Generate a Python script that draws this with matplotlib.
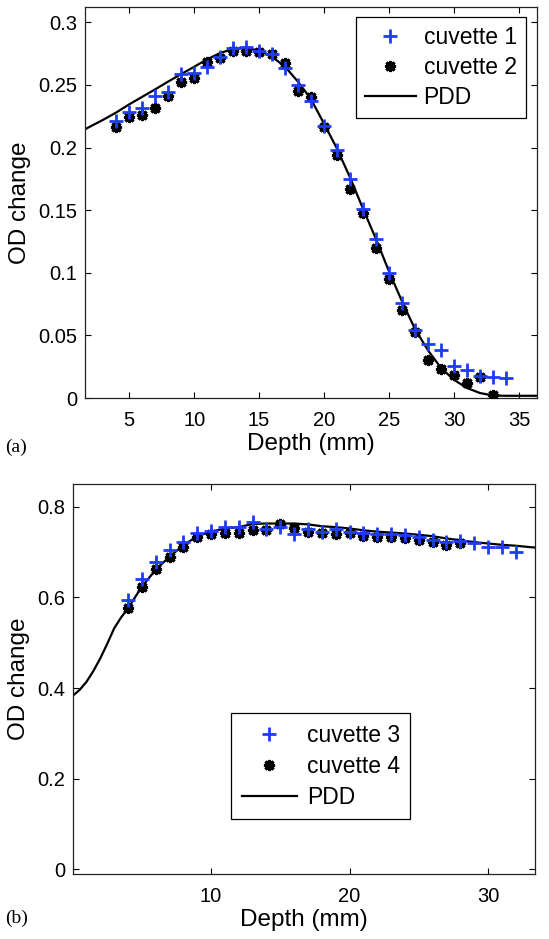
import matplotlib
matplotlib.use("Agg")
import matplotlib.pyplot as plt
from matplotlib.ticker import FuncFormatter, FixedLocator

# ---------------- data: panel (a) ----------------
depth_a = [4, 5, 6, 7, 8, 9, 10, 11, 12, 13, 14, 15, 16, 17, 18, 19, 20,
           21, 22, 23, 24, 25, 26, 27, 28, 29, 30, 31, 32, 33, 34]
cuvette1 = [0.2213, 0.2283, 0.2320, 0.2408, 0.2442, 0.2591, 0.2598, 0.2644,
            0.2721, 0.2798, 0.2803, 0.2770, 0.2750, 0.2633, 0.2498, 0.2375,
            0.2170, 0.1984, 0.1750, 0.1510, 0.1272, 0.1000, 0.0755, 0.0542,
            0.0429, 0.0383, 0.0254, 0.0223, 0.0174, 0.0165, 0.0157]
depth_a2 = [4, 5, 6, 7, 8, 9, 10, 11, 12, 13, 14, 15, 16, 17, 18, 19, 20,
            21, 22, 23, 24, 25, 26, 27, 28, 29, 30, 31, 32, 33]
cuvette2 = [0.2161, 0.2241, 0.2264, 0.2320, 0.2415, 0.2524, 0.2554, 0.2687,
            0.2718, 0.2770, 0.2775, 0.2766, 0.2748, 0.2673, 0.2453, 0.2405,
            0.2166, 0.1940, 0.1669, 0.1479, 0.1198, 0.0954, 0.0700, 0.0525,
            0.0303, 0.0235, 0.0186, 0.0124, 0.0171, 0.0022]
pdd_a_x = [1.6, 2, 3, 4, 5, 6, 7, 8, 9, 10, 11, 12, 13, 14, 15, 16, 17, 18,
           19, 20, 21, 22, 23, 24, 25, 26, 27, 28, 29, 30, 31, 32, 33, 34,
           35, 36.4]
pdd_a_y = [0.2146, 0.2168, 0.2222, 0.2280, 0.2345, 0.2405, 0.2465, 0.2527,
           0.2587, 0.2645, 0.2705, 0.2755, 0.2788, 0.2795, 0.2775, 0.2725,
           0.2645, 0.2525, 0.2385, 0.2190, 0.1990, 0.1760, 0.1510, 0.1268,
           0.1010, 0.0770, 0.0550, 0.0380, 0.0240, 0.0145, 0.0080, 0.0040,
           0.0020, 0.0018, 0.0018, 0.0018]

# ---------------- data: panel (b) ----------------
depth_b3 = [4, 5, 6, 7, 8, 9, 10, 11, 12, 13, 14, 15, 16, 17, 18, 19, 20,
            21, 22, 23, 24, 25, 26, 27, 28, 29, 30, 31, 32]
cuvette3 = [0.5943, 0.6406, 0.6787, 0.7045, 0.7228, 0.7413, 0.7471, 0.7559,
            0.7559, 0.7660, 0.7500, 0.7559, 0.7398, 0.7500, 0.7450, 0.7500,
            0.7450, 0.7413, 0.7390, 0.7390, 0.7380, 0.7324, 0.7266, 0.7230,
            0.7243, 0.7207, 0.7118, 0.7118, 0.7008]
depth_b4 = [4, 5, 6, 7, 8, 9, 10, 11, 12, 13, 14, 15, 16, 17, 18, 19, 20,
            21, 22, 23, 24, 25, 26, 27, 28]
cuvette4 = [0.5760, 0.6222, 0.6620, 0.6884, 0.7118, 0.7339, 0.7398, 0.7413,
            0.7427, 0.7486, 0.7486, 0.7618, 0.7523, 0.7449, 0.7427, 0.7398,
            0.7427, 0.7354, 0.7339, 0.7324, 0.7302, 0.7266, 0.7222, 0.7155,
            0.7192]
pdd_b_x = [0, 0.5, 1, 1.5, 2, 2.5, 3, 3.5, 4, 5, 6, 7, 8, 9, 10, 11, 12, 13,
           14, 15, 16, 17, 18, 19, 20, 21, 22, 23, 24, 25, 26, 27, 28, 29, 30,
           31, 32, 33, 33.4]
pdd_b_y = [0.383, 0.396, 0.414, 0.438, 0.466, 0.498, 0.532, 0.556, 0.576,
           0.624, 0.661, 0.690, 0.715, 0.735, 0.745, 0.752, 0.755, 0.762,
           0.763, 0.763, 0.763, 0.761, 0.757, 0.755, 0.752, 0.748, 0.745,
           0.743, 0.741, 0.738, 0.735, 0.730, 0.726, 0.722, 0.719, 0.716,
           0.714, 0.711, 0.710]

xticks_a = [5, 10, 15, 20, 25, 30, 35]
yticks_a = [0, 0.05, 0.1, 0.15, 0.2, 0.25, 0.3]
xticks_b = [10, 20, 30]
yticks_b = [0, 0.2, 0.4, 0.6, 0.8]

# ---------------- style ----------------
plt.rcParams['font.family'] = ['Liberation Sans', 'DejaVu Sans']
BLUE = '#1f3cf5'
TICK_FS = 14.5
LABEL_FS = 17.5
LEG_FS = 16.5

fig = plt.figure(figsize=(5.49, 9.39), dpi=100)
ax1 = fig.add_axes([0.1548, 0.5761, 0.8228, 0.4161])
ax2 = fig.add_axes([0.1324, 0.0692, 0.8421, 0.4153])

fmt = FuncFormatter(lambda v, p: '%g' % v)


def style(ax, xt, yt):
    ax.xaxis.set_major_locator(FixedLocator(xt))
    ax.yaxis.set_major_locator(FixedLocator(yt))
    ax.yaxis.set_major_formatter(fmt)
    ax.tick_params(direction='in', length=4, width=0.8, top=True, right=True,
                   labelsize=TICK_FS, colors='black')
    ax.tick_params(axis='y', pad=5.5)
    ax.tick_params(axis='x', pad=9.5)
    for s in ax.spines.values():
        s.set_linewidth(0.9)
        s.set_color('#222222')
    ax.set_xlabel('Depth (mm)', fontsize=LABEL_FS, labelpad=2)
    ax.set_ylabel('OD change', fontsize=LABEL_FS, labelpad=5)


pm = dict(marker='+', linestyle='none', color=BLUE, markersize=10.5,
          markeredgewidth=2.0)
dm = dict(marker=(8, 2, 0), linestyle='none', color='black', markersize=8,
          markeredgewidth=2.2)

ax1.plot(pdd_a_x, pdd_a_y, color='black', lw=1.6, label='PDD', zorder=2)
ax1.plot(depth_a, cuvette1, label='cuvette 1', zorder=4, **pm)
ax1.plot(depth_a2, cuvette2, label='cuvette 2', zorder=3, **dm)
ax1.set_xlim(1.6, 36.36)
ax1.set_ylim(0, 0.312)
style(ax1, xticks_a, yticks_a)
h, l = ax1.get_legend_handles_labels()
order = [1, 2, 0]
leg1 = ax1.legend([h[i] for i in order], [l[i] for i in order],
                  loc='upper right', bbox_to_anchor=(0.976, 0.976),
                  borderaxespad=0, fontsize=LEG_FS, fancybox=False,
                  edgecolor='black', framealpha=1, handlelength=2.2,
                  handletextpad=0.35, labelspacing=0.3, borderpad=0.4)
leg1.get_frame().set_linewidth(0.9)

ax2.plot(pdd_b_x, pdd_b_y, color='black', lw=1.6, label='PDD', zorder=2)
ax2.plot(depth_b3, cuvette3, label='cuvette 3', zorder=4, **pm)
ax2.plot(depth_b4, cuvette4, label='cuvette 4', zorder=3, **dm)
ax2.set_xlim(0, 33.4)
ax2.set_ylim(-0.01, 0.85)
style(ax2, xticks_b, yticks_b)
h, l = ax2.get_legend_handles_labels()
leg2 = ax2.legend([h[i] for i in order], [l[i] for i in order],
                  loc='lower left', bbox_to_anchor=(0.343, 0.141),
                  borderaxespad=0, fontsize=LEG_FS, fancybox=False,
                  edgecolor='black', framealpha=1, handlelength=2.4,
                  handletextpad=0.45, labelspacing=0.35, borderpad=0.45)
leg2.get_frame().set_linewidth(0.9)

fig.text(0.009, 0.524, '(a)', family='Liberation Serif', fontsize=14,
         va='center', ha='left')
fig.text(0.009, 0.0224, '(b)', family='Liberation Serif', fontsize=14,
         va='center', ha='left')

fig.savefig('out.png', dpi=100)
